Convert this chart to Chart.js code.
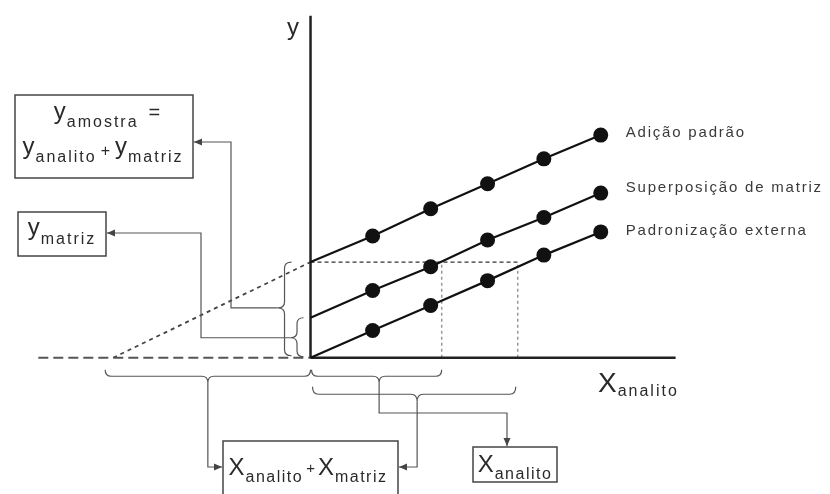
<!DOCTYPE html>
<html>
<head>
<meta charset="utf-8">
<script src="https://cdn.jsdelivr.net/npm/chart.js@4.4.1/dist/chart.umd.min.js"></script>
<style>
  body { margin: 0; background: #fff; }
</style>
</head>
<body>
<canvas id="grafico" width="830" height="494"></canvas>
<script>
// concentracao do analito (unidades arbitrarias)
const concentracoes = [1.07, 2.07, 3.05, 4.02, 5.0];
const adicaoPadrao = [2.10, 2.57, 3.00, 3.43, 3.84];
const superposicaoMatriz = [1.16, 1.57, 2.03, 2.42, 2.84];
const padronizacaoExterna = [0.47, 0.90, 1.33, 1.77, 2.17];
// intersecoes com o eixo y (x = 0), na mesma ordem das series
const interceptos = [1.65, 0.69, 0];
const nomesSeries = ['Adição padrão', 'Superposição de matriz', 'Padronização externa'];
// leitura de x para y = y_amostra (superposicao e padronizacao externa)
const xLeitura = [2.26, 3.57];
// extrapolacao da adicao padrao ate y = 0
const xExtrapolado = -3.40;
const xInicioTracejado = -4.69;
const xFimEixo = 6.29;
const yFimEixo = 5.90;

const FONTE = '"Liberation Sans", Arial, sans-serif';

function serie(intercepto, valores) {
  return [{ x: 0, y: intercepto }].concat(concentracoes.map((x, i) => ({ x: x, y: valores[i] })));
}

function linha(pontos, cor, largura, tracejado) {
  return {
    data: pontos, showLine: true, pointRadius: 0, borderColor: cor,
    borderWidth: largura, borderDash: tracejado || [], clip: false
  };
}

const series = [adicaoPadrao, superposicaoMatriz, padronizacaoExterna].map((v, i) => ({
  label: nomesSeries[i],
  data: serie(interceptos[i], v),
  showLine: true,
  borderColor: '#111',
  borderWidth: 2.2,
  pointRadius: ctx => ctx.dataIndex === 0 ? 0 : 7.5,
  pointBackgroundColor: '#111',
  pointBorderWidth: 0,
  clip: false
}));

const guias = [
  linha([{ x: 0, y: 0 }, { x: xFimEixo, y: 0 }], '#222', 2.5),
  linha([{ x: 0, y: 0 }, { x: 0, y: yFimEixo }], '#222', 2.5),
  linha([{ x: xInicioTracejado, y: 0 }, { x: 0, y: 0 }], '#555', 2, [10, 5]),
  linha([{ x: xExtrapolado, y: 0 }, { x: 0, y: interceptos[0] }], '#444', 1.8, [4, 4]),
  linha([{ x: 0, y: interceptos[0] }, { x: xLeitura[1], y: interceptos[0] }], '#333', 1.2, [4, 3]),
  linha([{ x: xLeitura[0], y: 0 }, { x: xLeitura[0], y: interceptos[0] }], '#999', 1.5, [3, 3]),
  linha([{ x: xLeitura[1], y: 0 }, { x: xLeitura[1], y: interceptos[0] }], '#999', 1.5, [3, 3])
];

// ---- desenho das anotacoes (chaves, caixas, setas, textos) ----
function texto(ctx, x, y, partes, centro) {
  let larg = 0;
  partes.forEach(p => {
    ctx.font = p.s + 'px ' + FONTE;
    ctx.letterSpacing = (p.ls || 0) + 'px';
    larg += (p.gap || 0) + ctx.measureText(p.t).width;
  });
  let cx = centro ? x - larg / 2 : x;
  partes.forEach(p => {
    ctx.font = p.s + 'px ' + FONTE;
    ctx.letterSpacing = (p.ls || 0) + 'px';
    cx += p.gap || 0;
    ctx.fillText(p.t, cx, y + (p.dy || 0));
    cx += ctx.measureText(p.t).width;
  });
  ctx.letterSpacing = '0px';
}

function chaveV(ctx, x, y1, y2, d, ym) {
  const h = d / 2, r = 6;
  ctx.beginPath();
  ctx.moveTo(x, y1);
  ctx.quadraticCurveTo(x - h, y1, x - h, y1 + r);
  ctx.lineTo(x - h, ym - r);
  ctx.quadraticCurveTo(x - h, ym, x - d, ym);
  ctx.quadraticCurveTo(x - h, ym, x - h, ym + r);
  ctx.lineTo(x - h, y2 - r);
  ctx.quadraticCurveTo(x - h, y2, x, y2);
  ctx.stroke();
}

function chaveH(ctx, y, x1, x2, d, xm) {
  const h = d / 2, r = 6;
  ctx.beginPath();
  ctx.moveTo(x1, y);
  ctx.quadraticCurveTo(x1, y + h, x1 + r, y + h);
  ctx.lineTo(xm - r, y + h);
  ctx.quadraticCurveTo(xm, y + h, xm, y + d);
  ctx.quadraticCurveTo(xm, y + h, xm + r, y + h);
  ctx.lineTo(x2 - r, y + h);
  ctx.quadraticCurveTo(x2, y + h, x2, y);
  ctx.stroke();
}

function seta(ctx, pts) {
  ctx.beginPath();
  ctx.moveTo(pts[0][0], pts[0][1]);
  for (let i = 1; i < pts.length; i++) ctx.lineTo(pts[i][0], pts[i][1]);
  ctx.stroke();
  const [ax, ay] = pts[pts.length - 2];
  const [bx, by] = pts[pts.length - 1];
  const ang = Math.atan2(by - ay, bx - ax);
  ctx.beginPath();
  ctx.moveTo(bx, by);
  ctx.lineTo(bx - 8 * Math.cos(ang) + 3.5 * Math.sin(ang), by - 8 * Math.sin(ang) - 3.5 * Math.cos(ang));
  ctx.lineTo(bx - 8 * Math.cos(ang) - 3.5 * Math.sin(ang), by - 8 * Math.sin(ang) + 3.5 * Math.cos(ang));
  ctx.closePath();
  ctx.fill();
}

const anotacoes = {
  id: 'anotacoes',
  beforeDraw(chart) {
    const ctx = chart.ctx;
    ctx.save();
    ctx.fillStyle = '#fff';
    ctx.fillRect(0, 0, chart.width, chart.height);
    ctx.restore();
  },
  afterDraw(chart) {
    const ctx = chart.ctx;
    const X = v => chart.scales.x.getPixelForValue(v);
    const Y = v => chart.scales.y.getPixelForValue(v);
    const ox = X(0), oy = Y(0);
    const yA = Y(interceptos[0]), yS = Y(interceptos[1]);

    ctx.save();
    ctx.strokeStyle = '#555';
    ctx.fillStyle = '#444';
    ctx.lineWidth = 1.2;

    // chaves do eixo y
    const tipA = (yA + oy) / 2 - 2;
    const tipS = (yS + oy) / 2;
    chaveV(ctx, ox - 19, yA, oy - 2, 14, tipA);
    chaveV(ctx, ox - 7, yS, oy - 1, 13, tipS);

    // chaves do eixo x
    const xC1 = X(xExtrapolado) - 8;
    const tipC = (xC1 + ox) / 2;
    const tipAx = (ox + X(xLeitura[0])) / 2 + 3;
    const tipBx = (ox + X(xLeitura[1])) / 2 + 3;
    chaveH(ctx, oy + 12, xC1, ox, 13, tipC);
    chaveH(ctx, oy + 12, ox + 1, X(xLeitura[0]), 13, tipAx);
    chaveH(ctx, oy + 29, ox + 2, X(xLeitura[1]) - 2, 15, tipBx);

    // conectores com setas
    seta(ctx, [[ox - 33, tipA], [231, tipA], [231, 142], [194, 142]]);
    seta(ctx, [[ox - 20, tipS], [201, tipS], [201, 233], [107, 233]]);
    seta(ctx, [[tipC, oy + 25], [tipC, 467], [222, 467]]);
    seta(ctx, [[tipAx, oy + 25], [tipAx, 413], [507, 413], [507, 446]]);
    seta(ctx, [[tipBx, oy + 44], [tipBx, 467], [399, 467]]);

    // caixas
    ctx.strokeStyle = '#444';
    ctx.lineWidth = 1.5;
    ctx.strokeRect(15, 95, 178, 83);
    ctx.strokeRect(18, 212, 88, 44);
    ctx.strokeRect(223, 441, 175, 70);
    ctx.strokeRect(473, 447, 84, 35);

    ctx.fillStyle = '#2a2a2a';
    ctx.textBaseline = 'alphabetic';
    texto(ctx, 107, 119, [
      { t: 'y', s: 24 }, { t: 'amostra', s: 16, dy: 8, ls: 2, gap: 1 }, { t: '=', s: 20, gap: 10 }
    ], true);
    texto(ctx, 103, 154, [
      { t: 'y', s: 24 }, { t: 'analito', s: 16, dy: 8, ls: 2, gap: 1 },
      { t: '+', s: 16, gap: 4, dy: 2 }, { t: 'y', s: 24, gap: 5 },
      { t: 'matriz', s: 16, dy: 8, ls: 2, gap: 1 }
    ], true);
    texto(ctx, 62, 235, [{ t: 'y', s: 24 }, { t: 'matriz', s: 16, dy: 9, ls: 2, gap: 1 }], true);
    texto(ctx, 308, 475, [
      { t: 'X', s: 24 }, { t: 'analito', s: 16, dy: 7, ls: 1.5, gap: 1 },
      { t: '+', s: 15, gap: 3, dy: -2 }, { t: 'X', s: 24, gap: 3 },
      { t: 'matriz', s: 16, dy: 7, ls: 1.5, gap: 1 }
    ], true);
    texto(ctx, 515, 472, [{ t: 'X', s: 24 }, { t: 'analito', s: 16, dy: 7, ls: 1.5, gap: 1 }], true);

    // rotulos dos eixos
    texto(ctx, 598, 392, [{ t: 'X', s: 28 }, { t: 'analito', s: 16, dy: 4, ls: 2, gap: 1 }], false);
    texto(ctx, 287, 35, [{ t: 'y', s: 24 }], false);

    // nomes das series ao lado do ultimo ponto
    ctx.fillStyle = '#3a3a3a';
    const baseLinhas = [137, 192, 235];
    nomesSeries.forEach((n, i) => {
      const ultimo = chart.getDatasetMeta(i).data[concentracoes.length];
      texto(ctx, ultimo.x + 25, baseLinhas[i], [{ t: n, s: 15, ls: 1.8 }], false);
    });
    ctx.restore();
  }
};

new Chart(document.getElementById('grafico'), {
  type: 'scatter',
  data: { datasets: series.concat(guias) },
  options: {
    responsive: false,
    animation: false,
    layout: { padding: 0, autoPadding: false },
    plugins: { legend: { display: false }, tooltip: { enabled: false } },
    scales: {
      x: { type: 'linear', display: false, min: -5.35, max: 8.95 },
      y: { type: 'linear', display: false, min: -2.35, max: 6.17 }
    }
  },
  plugins: [anotacoes]
});
</script>
</body>
</html>
